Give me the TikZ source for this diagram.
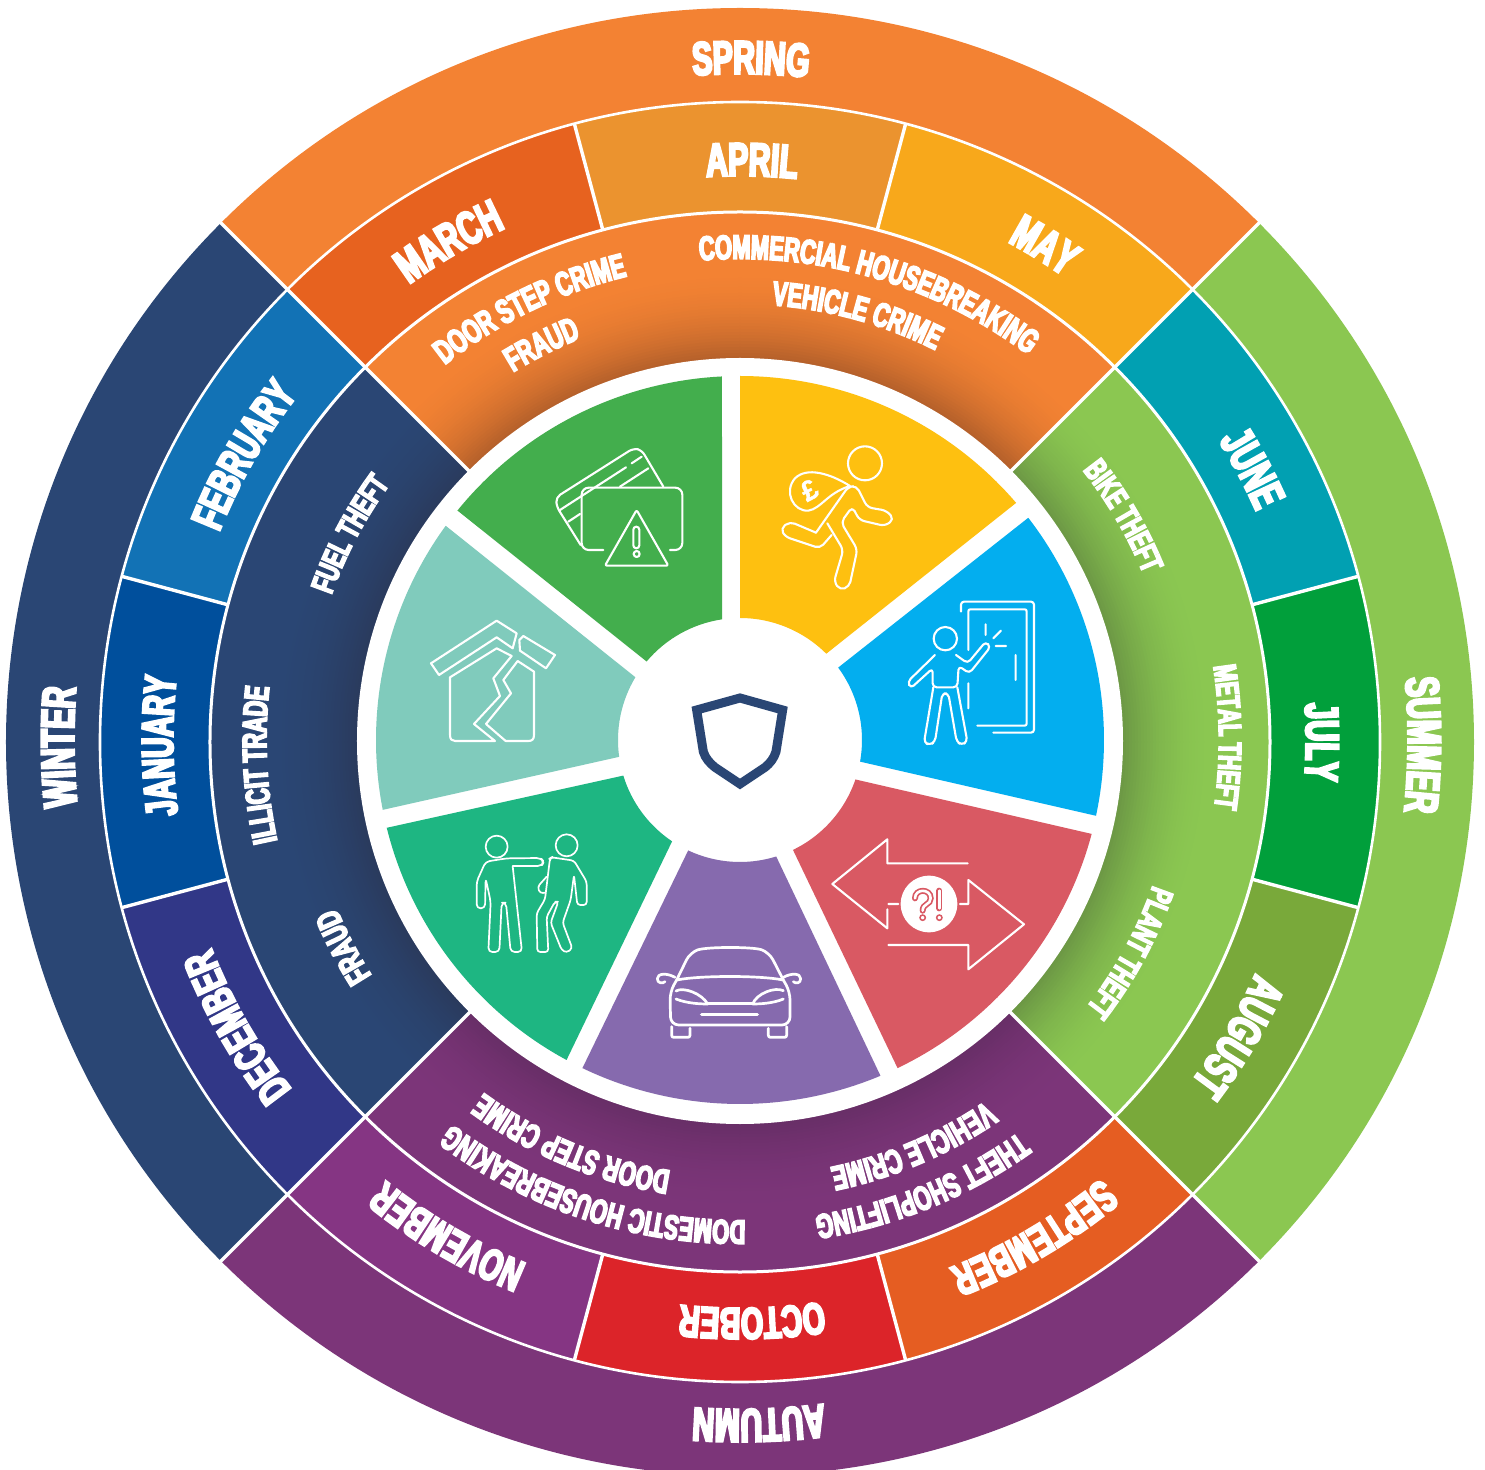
\documentclass[tikz,border=0pt]{standalone}
\usepackage{fontspec}
\usetikzlibrary{decorations.text}
\newfontfamily\impact[FakeStretch=0.64,FakeBold=5]{Liberation Sans Bold}
\newfontfamily\plainbold[FakeBold=1.5]{Liberation Sans Bold}
\newcommand\fa{\impact\fontsize{47}{47}\selectfont\color{white}}
\newcommand\fc{\impact\fontsize{44.5}{44.5}\selectfont\color{white}}
\newcommand\fb{\impact\fontsize{34}{34}\selectfont\color{white}}
\newcommand\fd{\impact\fontsize{32}{32}\selectfont\color{white}}
\definecolor{cSpring}{HTML}{F38233}\definecolor{cSummer}{HTML}{8BC751}
\definecolor{cAutumn}{HTML}{7C3579}\definecolor{cWinter}{HTML}{2A4674}
\definecolor{dSpring}{HTML}{B05E2A}\definecolor{dSummer}{HTML}{6A9544}
\definecolor{dAutumn}{HTML}{672E66}\definecolor{dWinter}{HTML}{2A3A5C}
\definecolor{cMar}{HTML}{E7621F}\definecolor{cApr}{HTML}{EB932F}\definecolor{cMay}{HTML}{F8A81B}
\definecolor{cJun}{HTML}{01A0B2}\definecolor{cJul}{HTML}{019F3B}\definecolor{cAug}{HTML}{79A93A}
\definecolor{cSep}{HTML}{E55D22}\definecolor{cOct}{HTML}{DC2429}\definecolor{cNov}{HTML}{853583}
\definecolor{cDec}{HTML}{313787}\definecolor{cJan}{HTML}{004F9C}\definecolor{cFeb}{HTML}{1272B5}
\definecolor{wYellow}{HTML}{FEC010}\definecolor{wBlue}{HTML}{03AEEF}\definecolor{wRed}{HTML}{D95963}
\definecolor{wPurple}{HTML}{866AAE}\definecolor{wDkGreen}{HTML}{1EB682}\definecolor{wTeal}{HTML}{80CBBC}
\definecolor{wGreen}{HTML}{43AE4D}
\newcommand\pieshape[4]{\fill[#1] (0,0) -- (#2:#4) arc[start angle=#2,end angle=#3,radius=#4] -- cycle;}
\newcommand\ringshade[4]{%
  \foreach \rr in {476,473,...,380}{%
    \pgfmathsetmacro\tt{(476-\rr)/94}%
    \pgfmathsetmacro\pp{100*\tt*\tt}%
    \fill[#2!\pp!#1] (0,0) -- (#3:\rr) arc[start angle=#3,end angle=#4,radius=\rr] -- cycle;
  }}
\newcommand\wedgeshape[9]{%
  \pgfmathsetmacro\aA{atan2(740-#3,#2-740)}%
  \pgfmathsetmacro\aB{atan2(740-#5,#4-740)}%
  \pgfmathsetmacro\aB{\aB>\aA?\aB-360:\aB}%
  \pgfmathsetmacro\aC{atan2(740-#7,#6-740)}%
  \pgfmathsetmacro\aD{atan2(740-#9,#8-740)}%
  \pgfmathsetmacro\aD{\aD<\aC?\aD+360:\aD}%
  \fill[#1] (\aA:364) arc[start angle=\aA,end angle=\aB,radius=364] -- (\aC:122) arc[start angle=\aC,end angle=\aD,radius=122] -- cycle;}
\newcommand\arctext[5]{%
  \pgfmathsetmacro\dx{#3-740}%
  \pgfmathsetmacro\dy{740-#4}%
  \pgfmathsetmacro\rd{veclen(\dx,\dy)-#2}%
  \pgfmathsetmacro\ac{atan2(\dy,\dx)}%
  \pgfmathsetmacro\aS{\ac+70}%
  \pgfmathsetmacro\aE{\ac-70}%
  \path[decorate,decoration={text along path,text={|#1|#5},text align=center}]
    (\aS:\rd) arc[start angle=\aS,end angle=\aE,radius=\rd];}
\tikzset{
  zc/.style 2 args={shift={(#1pt,#2pt)},x=0.33333pt,y=-0.33333pt},
  ic/.style={draw=white,line width=2.1pt,line join=round,line cap=round},
  ringline/.style={draw=white},
}
\begin{document}
\begin{tikzpicture}[x=1pt,y=1pt]
\useasboundingbox (-740,-729) rectangle (745,740);
\fill[white] (-740,-729) rectangle (745,740);
\begin{scope}[yshift=-2pt]
% seasons
\pieshape{cSpring}{45}{135}{734}
\pieshape{cSummer}{-45}{45}{734}
\pieshape{cAutumn}{225}{315}{734}
\pieshape{cWinter}{135}{225}{734}
% months
\pieshape{cMar}{105}{135}{640}\pieshape{cApr}{75}{105}{640}\pieshape{cMay}{45}{75}{640}
\pieshape{cJun}{15}{45}{640}\pieshape{cJul}{-15}{15}{640}\pieshape{cAug}{-45}{-15}{640}
\pieshape{cSep}{-75}{-45}{640}\pieshape{cOct}{-105}{-75}{640}\pieshape{cNov}{-135}{-105}{640}
\pieshape{cDec}{195}{225}{640}\pieshape{cJan}{165}{195}{640}\pieshape{cFeb}{135}{165}{640}
% crime ring
\pieshape{cSpring}{45}{135}{530}\pieshape{cSummer}{-45}{45}{530}
\pieshape{cAutumn}{225}{315}{530}\pieshape{cWinter}{135}{225}{530}
\ringshade{cSpring}{dSpring}{45}{135}
\ringshade{cSummer}{dSummer}{-45}{45}
\ringshade{cAutumn}{dAutumn}{225}{315}
\ringshade{cWinter}{dWinter}{135}{225}
% white lines
\draw[ringline,line width=2.6pt] (0,0) circle[radius=640];
\draw[ringline,line width=3pt] (0,0) circle[radius=530];
\foreach \a in {15,75,105,165,195,255,285,345}{\draw[ringline,line width=3.4pt] (\a:530) -- (\a:640);}
\foreach \a in {45,135,225,315}{\draw[ringline,line width=3.4pt] (\a:380) -- (\a:745);}
\end{scope}
\fill[white] (0,-1) circle[radius=383];
% wedges
\wedgeshape{wYellow}{740}{377}{1016}{503}{827}{653}{740}{618}
\wedgeshape{wBlue}{1028}{518}{1097}{816}{862}{762}{839}{667}
\wedgeshape{wRed}{1092}{834}{898}{1069}{794}{852}{857}{780}
\wedgeshape{wPurple}{881}{1077}{582}{1069}{687}{853}{777}{859}
\wedgeshape{wDkGreen}{566}{1061}{386}{828}{622}{776}{671}{843}
\wedgeshape{wTeal}{382}{810}{446}{526}{635}{677}{618}{757}
\wedgeshape{wGreen}{458}{511}{722}{377}{722}{619}{646}{661}
% shield
\begin{scope}[zc={-70}{70}]
\draw[cWinter,line width=9pt,line join=miter] (80,120) -- (210,84) -- (338,120) -- (318,245) .. controls (312,265) and (300,280) .. (285,292) -- (210,342) -- (135,292) .. controls (120,280) and (106,265) .. (100,245) -- cycle;
\end{scope}
% green: card and warning
\begin{scope}[zc={-380}{380}]
\draw[ic,rounded corners=5pt] (910,380) -- (845,270) -- (820,265) -- (588,412) -- (590,440) -- (662,555);
\draw[ic] (600,450) -- (798,322) (815,310) -- (845,290) (625,485) -- (660,462) (780,380) -- (865,325);
\draw[ic,rounded corners=7pt] (730,570) -- (665,570) -- (665,383) -- (967,383) -- (967,570) -- (930,570);
\draw[ic,rounded corners=2pt] (830,450) -- (925,617) -- (735,617) -- cycle;
\draw[ic,rounded corners=3pt] (820,500) rectangle (838,565);
\draw[ic] (830,582) circle[radius=9];
\end{scope}
% teal: broken house
\begin{scope}[zc={-380}{380}]
\draw[ic] (213,910) -- (410,782) -- (470,820) -- (458,865) -- (410,832) -- (237,945) -- cycle;
\draw[ic] (490,828) -- (585,885) -- (558,925) -- (480,872) -- (478,840) -- cycle;
\draw[ic] (455,888) -- (410,865) -- (270,952) -- (270,1125) .. controls (270,1138) and (276,1143) .. (285,1143) -- (405,1143) -- (342,1092) -- (420,1008) -- (400,955) -- cycle;
\draw[ic] (473,903) -- (522,935) -- (522,1125) .. controls (522,1138) and (516,1143) .. (505,1143) -- (437,1143) -- (378,1092) -- (453,1000) -- (430,960) -- cycle;
\end{scope}
% yellow: runner
\begin{scope}[zc={0}{380}]
\draw[ic] (375,310) circle[radius=51];
\draw[ic] (330,378) .. controls (270,340) and (200,320) .. (165,355) .. controls (130,395) and (160,455) .. (205,452) .. controls (245,445) and (260,400) .. (330,378);
\node[rotate=28,text=white,inner sep=0pt] (pound) at (208,390) {\plainbold\fontsize{28}{28}\selectfont £};
\draw[ic,rounded corners=5pt] (228,518) -- (325,380) -- (350,378) -- (382,442) -- (440,452) -- (462,478) -- (435,498) -- (358,480) -- (337,440) -- (303,487) -- (352,568) -- (328,680) -- (300,690) -- (282,665) -- (310,570) -- (262,490);
\draw[ic,rounded corners=5pt] (275,525) -- (240,565) -- (135,530) -- (122,505) -- (150,485) -- (228,518);
\end{scope}
% blue: person at door
\begin{scope}[zc={0}{380}]
\draw[ic,rounded corners=3pt] (663,755) -- (663,725) -- (882,725) -- (882,1118) -- (760,1118);
\draw[ic,rounded corners=2pt] (685,870) -- (685,748) -- (860,748) -- (860,1097) -- (712,1097);
\draw[ic] (685,970) -- (685,1045) (827,885) -- (827,960) (737,793) -- (737,825) (783,812) -- (760,835) (767,858) -- (798,858);
\draw[ic] (616,836) circle[radius=35];
\draw[ic,rounded corners=4pt] (585,885) -- (503,965) -- (512,985) -- (578,925) -- (578,982) -- (652,982) -- (656,918) -- (688,940) -- (752,860) -- (737,845) -- (683,910) -- (648,885);
\draw[ic,rounded corners=4pt] (580,982) -- (552,1148) -- (570,1155) -- (585,1145) -- (607,1000) -- (625,1000) -- (650,1145) -- (665,1155) -- (682,1145) -- (652,982);
\end{scope}
% red: arrows
\begin{scope}[zc={0}{0}]
\draw[ic] (683,370) -- (442,370) -- (442,298) -- (277,432) -- (442,565) -- (442,508) (445,492) -- (475,492);
\draw[ic] (660,492) -- (685,492) -- (685,420) -- (852,553) -- (685,688) -- (685,615) -- (445,615);
\fill[white] (567,492) circle[radius=85];
\draw[wRed,line width=6pt,line cap=round] (525,475) .. controls (525,445) and (572,445) .. (572,475) .. controls (572,495) and (548,490) .. (548,512);
\draw[white,line width=2.6pt,line cap=round] (525,475) .. controls (525,445) and (572,445) .. (572,475) .. controls (572,495) and (548,490) .. (548,512);
\draw[wRed,line width=6pt,line cap=round] (598,452) -- (598,505);
\draw[white,line width=2.6pt,line cap=round] (598,452) -- (598,505);
\draw[wRed,line width=1.5pt] (548,533) circle[radius=8] (598,533) circle[radius=8];
\end{scope}
% purple: car
\begin{scope}[zc={-100}{-190}]
\draw[ic,line width=2.7pt,rounded corners=8pt] (110,150) -- (150,68) .. controls (200,50) and (340,50) .. (388,68) -- (430,150);
\draw[ic,line width=2.7pt] (110,150) .. controls (180,136) and (360,136) .. (430,150);
\draw[ic,line width=2.7pt,rounded corners=8pt] (110,150) -- (90,185) -- (92,285) -- (450,285) -- (450,185) -- (430,150);
\draw[ic,line width=2.7pt,rounded corners=2pt] (95,290) -- (95,322) -- (150,322) -- (150,295);
\draw[ic,line width=2.7pt,rounded corners=2pt] (385,295) -- (385,322) -- (440,322) -- (440,290);
\draw[ic,line width=2.7pt] (105,142) .. controls (80,128) and (52,130) .. (52,146) .. controls (52,160) and (68,162) .. (75,155);
\draw[ic,line width=2.7pt] (430,142) .. controls (455,128) and (482,130) .. (482,146) .. controls (482,160) and (468,162) .. (460,155);
\draw[ic,line width=2.7pt] (108,183) .. controls (130,170) and (185,190) .. (203,222);
\draw[ic,line width=2.7pt] (108,207) .. controls (140,220) and (180,222) .. (203,222);
\draw[ic,line width=2.7pt] (203,220) -- (338,220);
\draw[ic,line width=2.7pt] (430,182) .. controls (405,170) and (350,190) .. (338,222);
\draw[ic,line width=2.7pt] (430,207) .. controls (400,220) and (360,222) .. (338,222);
\draw[ic,line width=3.4pt] (185,253) -- (352,253);
\end{scope}
% dark green: two people
\begin{scope}[zc={-370}{0}]
\draw[ic,line width=1.7pt] (380,320) circle[radius=33];
\draw[ic,line width=1.7pt,rounded corners=4pt] (428,378) -- (515,378) -- (522,365) -- (512,354) -- (410,355) -- (347,365) -- (320,425) -- (320,505) -- (345,505) -- (347,415) -- (362,485) -- (355,636) -- (388,636) -- (395,488) -- (408,488) -- (422,636) -- (456,636) -- (428,378);
\draw[ic,line width=1.7pt] (590,316) circle[radius=33];
\draw[ic,line width=1.7pt,rounded corners=3pt] (545,352) -- (612,362) -- (650,425) -- (650,495) -- (622,495) -- (612,405) -- (602,480) -- (578,548) -- (607,625) -- (590,638) -- (575,630) -- (542,548) -- (565,485) -- (555,485) -- (530,530) -- (535,636) -- (502,636) -- (500,520) -- (525,478) -- (540,355) -- cycle;
\draw[ic,line width=1.7pt,rounded corners=3pt] (530,410) -- (503,440) -- (510,460) -- (525,458);
\end{scope}
% text: seasons and months
\arctext{\fa}{16}{751}{58}{SPRING}
\arctext{\fa}{13}{1421}{745}{SUMMER}
\arctext{\fa}{14}{759}{1423}{AUTUMN}
\arctext{\fa}{16}{58}{747}{WINTER}
\arctext{\fa}{16}{448}{240}{MARCH}
\arctext{\fa}{16}{752}{160}{APRIL}
\arctext{\fa}{16}{1045}{245}{MAY}
\arctext{\fa}{16}{1253}{468}{JUNE}
\arctext{\fa}{16}{1322}{742}{JULY}
\arctext{\fa}{16}{1240}{1038}{AUGUST}
\arctext{\fc}{16}{1037}{1243}{SEPTEMBER}
\arctext{\fc}{14}{752}{1322}{OCTOBER}
\arctext{\fc}{16}{445}{1241}{NOVEMBER}
\arctext{\fc}{19}{230}{1031}{DECEMBER}
\arctext{\fc}{13}{160}{746}{JANUARY}
\arctext{\fc}{18}{238}{452}{FEBRUARY}
% text: crimes
\arctext{\fb}{12}{876}{266}{COMMERCIAL HOUSEBREAKING}
\arctext{\fb}{12}{859}{308}{VEHICLE CRIME}
\arctext{\fb}{12}{526}{300}{DOOR STEP CRIME}
\arctext{\fb}{12}{541}{343}{FRAUD}
\arctext{\fd}{12}{1127}{514}{BIKE THEFT}
\arctext{\fd}{9}{1228}{737}{METAL THEFT}
\arctext{\fd}{12}{1135}{955}{PLANT THEFT}
\arctext{\fd}{12}{346}{532}{FUEL THEFT}
\arctext{\fb}{12}{255}{765}{ILLICIT TRADE}
\arctext{\fb}{12}{342}{948}{FRAUD}
\arctext{\fb}{12}{568}{1154}{DOOR STEP CRIME}
\arctext{\fb}{12}{587}{1208}{DOMESTIC HOUSEBREAKING}
\arctext{\fb}{12}{926}{1197}{THEFT SHOPLIFTING}
\arctext{\fb}{12}{916}{1153}{VEHICLE CRIME}
\end{tikzpicture}
\end{document}
